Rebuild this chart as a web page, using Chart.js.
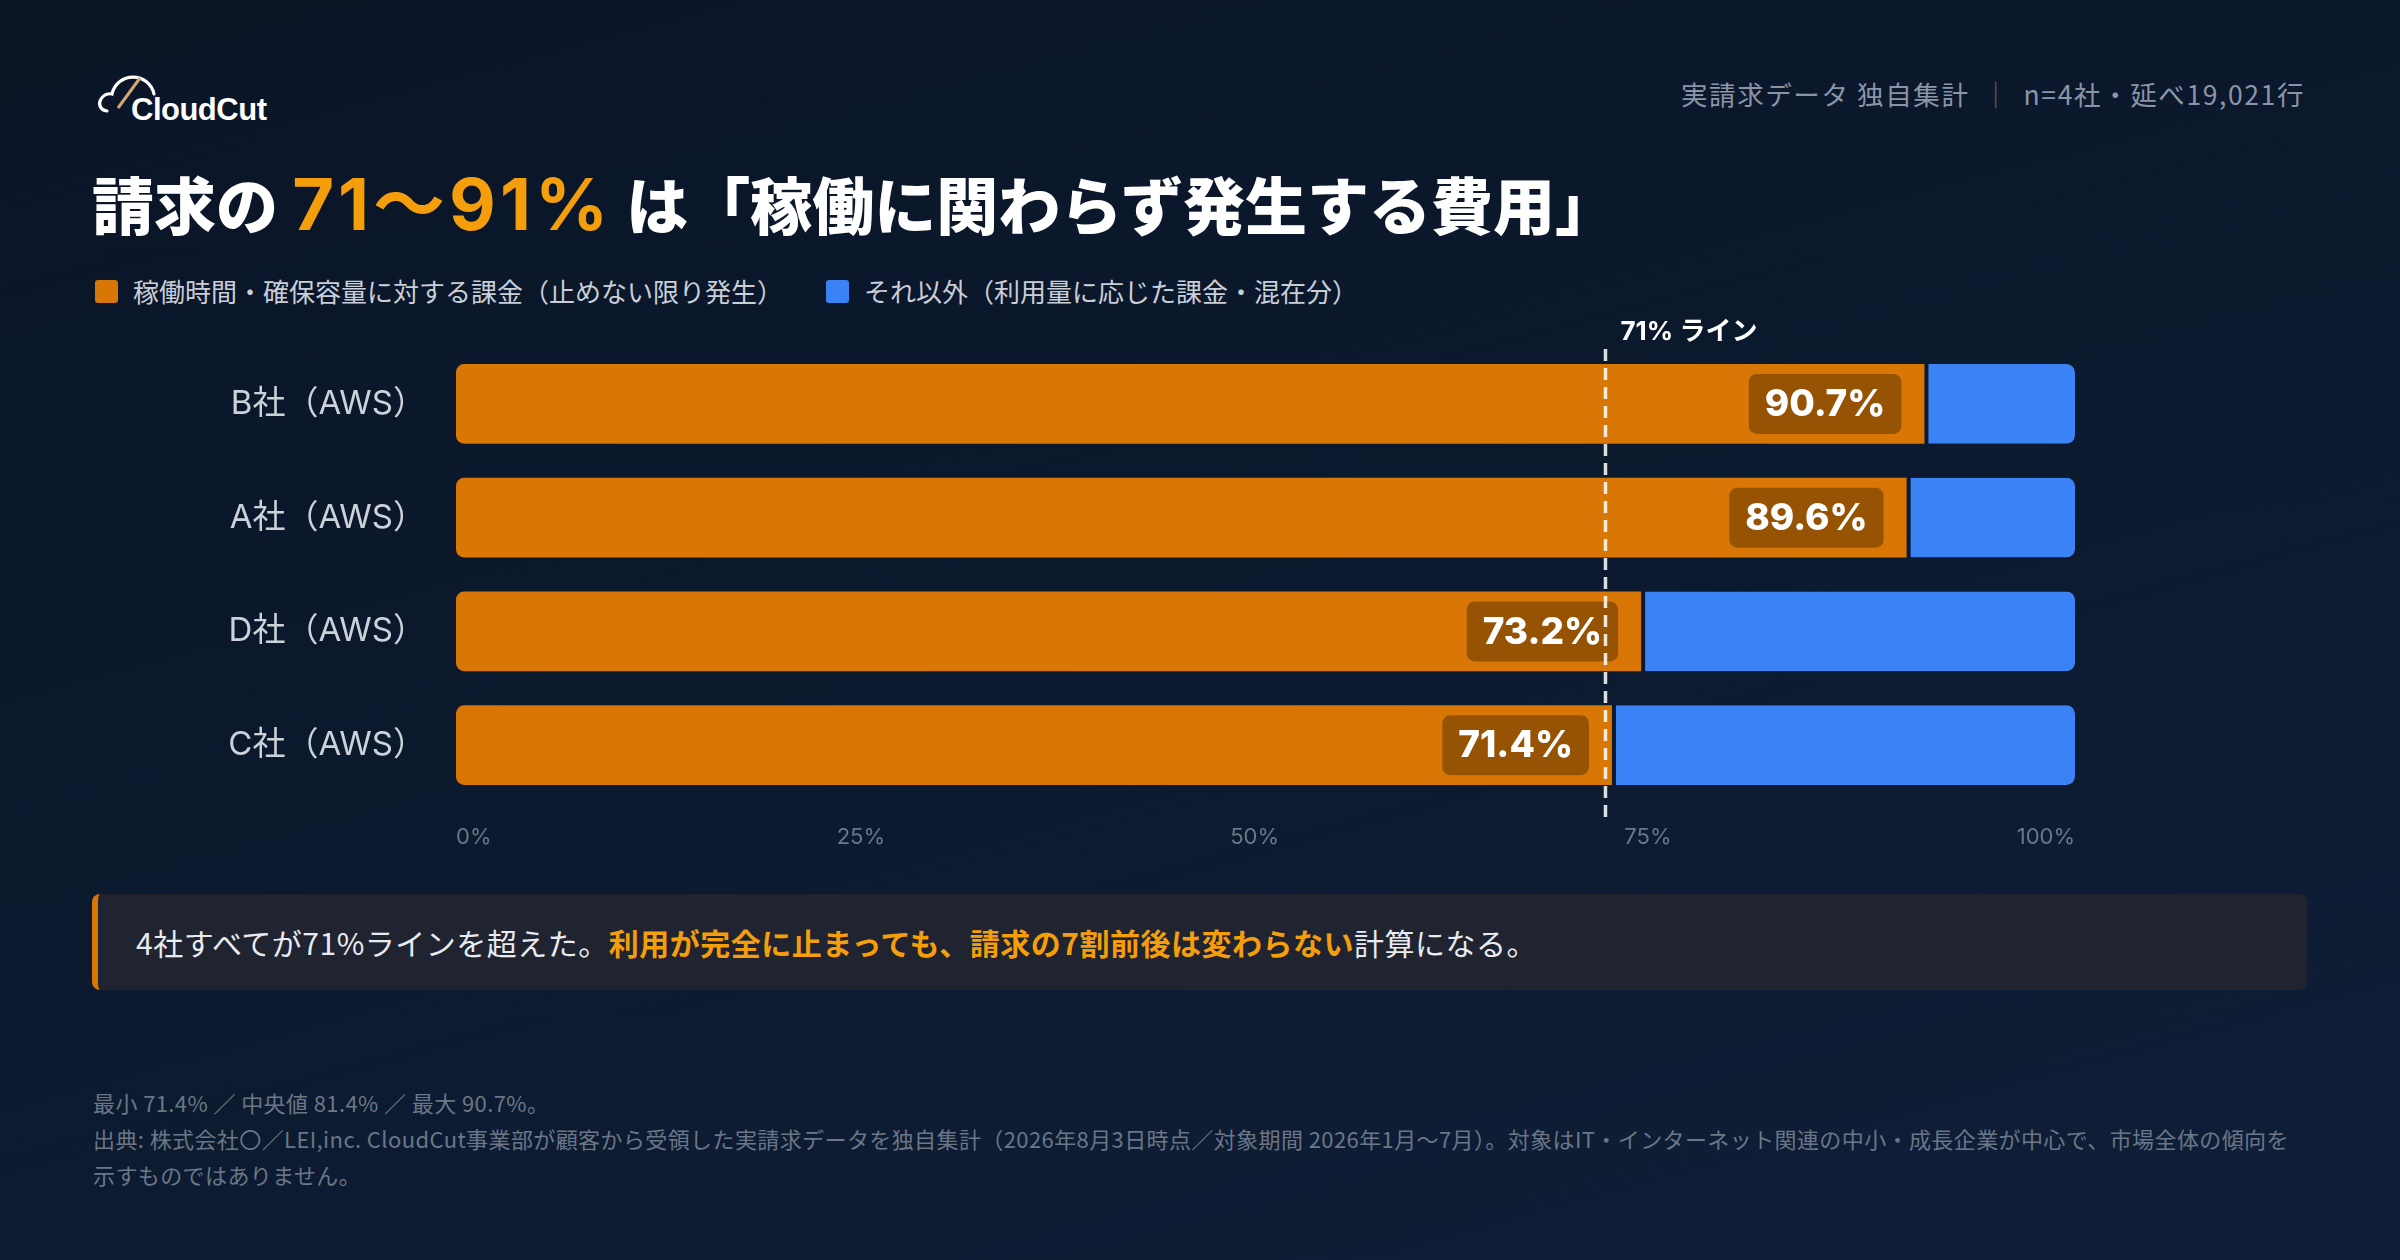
<!DOCTYPE html>
<html lang="ja">
<head>
<meta charset="utf-8">
<script src="https://cdn.jsdelivr.net/npm/chart.js@4/dist/chart.umd.min.js"></script>
<style>
  html, body { margin: 0; padding: 0; }
  body {
    width: 2400px; height: 1260px; overflow: hidden; position: relative;
    background: linear-gradient(165deg, #0a1526 0%, #0c1a2f 55%, #0f1f38 100%);
    font-family: "Noto Sans CJK JP", "Noto Sans", sans-serif; color: #fff;
  }
  .logo { position: absolute; left: 88px; top: 64px; }
  .meta { position: absolute; right: 95px; top: 79px; font-size: 26.5px; line-height: 30px; letter-spacing: 1.6px; color: #8b95a7; white-space: nowrap; }
  .meta .sep { color: #56627a; margin: 0 13px; }
  .title { position: absolute; left: 92px; top: 167px; font-size: 62px; line-height: 72px; font-weight: 900; white-space: nowrap; }
  .title .hl { color: #f59e0b; font-family: Inter, "Noto Sans CJK JP", sans-serif; font-weight: 700; font-size: 72px; letter-spacing: 4px; }
  .legend { position: absolute; left: 95px; top: 273px; display: flex; gap: 43px; font-size: 26px; line-height: 36px; color: #c9ced8; }
  .legend span.item { display: flex; align-items: center; }
  .legend i { display: inline-block; width: 23px; height: 23px; border-radius: 3px; margin-right: 15px; }
  #chartBox { position: absolute; left: 0; top: 300px; width: 2400px; height: 560px; }
  .callout {
    position: absolute; left: 92px; top: 894px; width: 2215px; height: 96px;
    background: #1f2430; border-left: 6px solid #d97706; border-radius: 8px;
    box-sizing: border-box; padding-left: 38px; font-size: 30px; letter-spacing: 0.5px; line-height: 96px; color: #e8ebf0; white-space: nowrap;
  }
  .callout b { color: #f59e0b; font-weight: 700; }
  .foot { position: absolute; left: 93px; top: 1084px; font-size: 22px; letter-spacing: 0.4px; line-height: 36px; color: #6b7687; white-space: nowrap; }
</style>
</head>
<body>
<svg class="logo" width="200" height="66" viewBox="88 64 200 66">
  <path d="M107 111 C100 110 98 104 101 99 C103 95 108 93 112 94 A21.5 21.5 0 0 1 154 94"
        fill="none" stroke="#ffffff" stroke-width="3.2" stroke-linecap="round"/>
  <line x1="118" y1="108" x2="140" y2="78" stroke="#d4a574" stroke-width="3"/>
  <text x="131" y="120" fill="#ffffff" font-family="Liberation Sans, Arial, sans-serif" font-weight="700" font-size="31" letter-spacing="-0.5">CloudCut</text>
</svg>
<div class="meta">実請求データ 独自集計<span class="sep">｜</span>n=4社・延べ19,021行</div>
<div class="title">請求の <span class="hl">71〜91%</span> は「稼働に関わらず発生する費用」</div>
<div class="legend" id="legend"></div>
<div id="chartBox"><canvas id="chart" width="2400" height="560"></canvas></div>
<div class="callout">4社すべてが71%ラインを超えた。<b>利用が完全に止まっても、請求の7割前後は変わらない</b>計算になる。</div>
<div class="foot">
  最小 71.4% ／ 中央値 81.4% ／ 最大 90.7%。<br>
  出典: 株式会社〇／LEI,inc. CloudCut事業部が顧客から受領した実請求データを独自集計（2026年8月3日時点／対象期間 2026年1月〜7月）。対象はIT・インターネット関連の中小・成長企業が中心で、市場全体の傾向を<br>
  示すものではありません。
</div>
<script>
const companies = ["B社（AWS）", "A社（AWS）", "D社（AWS）", "C社（AWS）"];
const fixedShare = [90.7, 89.6, 73.2, 71.4];
const otherShare = [9.3, 10.4, 26.8, 28.6];
const seriesLabels = ["稼働時間・確保容量に対する課金（止めない限り発生）", "それ以外（利用量に応じた課金・混在分）"];
const seriesColors = ["#d97706", "#3b82f6"];
const xTicks = [0, 25, 50, 75, 100];
const thresholdLine = 71;

// legend (html)
const legendEl = document.getElementById("legend");
seriesLabels.forEach((label, i) => {
  const item = document.createElement("span");
  item.className = "item";
  item.innerHTML = `<i style="background:${seriesColors[i]}"></i>${label}`;
  legendEl.appendChild(item);
});

Chart.defaults.font.family = "'Noto Sans CJK JP', sans-serif";

// x tick labels spread edge to edge (space-between), like the source layout
const spreadTicks = {
  id: "spreadTicks",
  beforeDraw(chart) {
    const s = chart.scales.x;
    const items = s.getLabelItems(chart.chartArea);
    const ctx = chart.ctx;
    ctx.save();
    const widths = items.map((it) => {
      ctx.font = it.font.string;
      return ctx.measureText(it.label).width;
    });
    ctx.restore();
    const total = widths.reduce((a, b) => a + b, 0);
    const gap = (s.right - s.left - total) / (items.length - 1);
    let x = s.left;
    items.forEach((it, i) => {
      it.options.translation = [x, it.options.translation[1]];
      it.options.textAlign = "left";
      x += widths[i] + gap;
    });
  },
};

const overlayPlugin = {
  id: "overlay",
  afterDatasetsDraw(chart) {
    const { ctx, chartArea, scales } = chart;
    const meta = chart.getDatasetMeta(0);
    ctx.save();
    // value badges
    ctx.font = "800 37px Inter, 'Noto Sans CJK JP', sans-serif";
    ctx.textAlign = "center";
    ctx.textBaseline = "middle";
    meta.data.forEach((bar, i) => {
      const text = fixedShare[i].toFixed(1) + "%";
      const w = ctx.measureText(text).width + 32;
      const h = 60;
      const right = bar.x - 23;
      ctx.fillStyle = "rgba(0,0,0,0.3)";
      ctx.beginPath();
      ctx.roundRect(right - w, bar.y - h / 2, w, h, 8);
      ctx.fill();
      ctx.fillStyle = "#ffffff";
      ctx.fillText(text, right - w / 2, bar.y + 1);
    });
    // 71% line
    const x = scales.x.getPixelForValue(thresholdLine);
    ctx.setLineDash([12, 7]);
    ctx.lineWidth = 3.5;
    ctx.strokeStyle = "rgba(255,255,255,0.85)";
    ctx.beginPath();
    ctx.moveTo(x, chartArea.top + 2);
    ctx.lineTo(x, chartArea.bottom + 20);
    ctx.stroke();
    ctx.setLineDash([]);
    ctx.font = "700 26px Inter, 'Noto Sans CJK JP', sans-serif";
    ctx.textAlign = "left";
    ctx.fillStyle = "#ffffff";
    ctx.fillText(`${thresholdLine}% ライン`, x + 15, chartArea.top - 15);
    ctx.restore();
  },
};

new Chart(document.getElementById("chart"), {
  type: "bar",
  data: {
    labels: companies,
    datasets: [
      {
        label: seriesLabels[0],
        data: fixedShare,
        backgroundColor: seriesColors[0],
        borderWidth: 0,
        borderSkipped: false,
        borderRadius: { topLeft: 8, bottomLeft: 8, topRight: 0, bottomRight: 0 },
      },
      {
        label: seriesLabels[1],
        data: otherShare,
        backgroundColor: seriesColors[1],
        borderColor: "#0c1a30",
        borderWidth: { left: 4, right: 0, top: 0, bottom: 0 },
        borderSkipped: false,
        borderRadius: { topLeft: 0, bottomLeft: 0, topRight: 8, bottomRight: 8 },
      },
    ],
  },
  options: {
    indexAxis: "y",
    responsive: false,
    animation: false,
    layout: { padding: { left: 95, right: 325, top: 47, bottom: 0 } },
    datasets: { bar: { categoryPercentage: 1, barPercentage: 0.7 } },
    plugins: {
      legend: { display: false },
      tooltip: { enabled: false },
    },
    scales: {
      x: {
        stacked: true,
        min: 0,
        max: 100,
        afterBuildTicks: (s) => { s.ticks = xTicks.map((v) => ({ value: v })); },
        afterFit: (s) => { s.height = 58; s.paddingLeft = 0; s.paddingRight = 0; },
        grid: { display: false, drawTicks: false },
        border: { display: false },
        ticks: {
          align: "inner",
          padding: 22,
          color: "#6b7789",
          font: { size: 22, family: "Inter, 'Noto Sans CJK JP', sans-serif" },
          callback: (v) => v + "%",
        },
      },
      y: {
        stacked: true,
        afterFit: (s) => { s.width = 361; s.paddingTop = 0; s.paddingBottom = 0; },
        grid: { display: false, drawTicks: false },
        border: { display: false },
        ticks: { padding: 30, color: "#cdd2da", font: { size: 33, family: "Inter, 'Noto Sans CJK JP', sans-serif" } },
      },
    },
  },
  plugins: [spreadTicks, overlayPlugin],
});
</script>
</body>
</html>
